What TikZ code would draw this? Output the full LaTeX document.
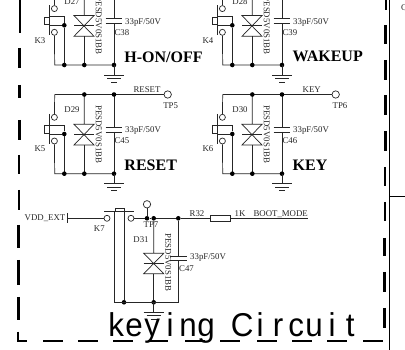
\documentclass[tikz,border=0pt]{standalone}
\usepackage{fontspec}
\setmainfont{Liberation Serif}
\newfontfamily\titlefont[FakeStretch=0.95]{Liberation Sans}
\usetikzlibrary{calc}
\newcommand{\mc}[1]{\makebox[18pt][c]{#1}}
\tikzset{
  x=1pt,y=-1pt,
  wire/.style={line width=0.7pt,draw=black!85},
  heavy/.style={line width=2.6pt,black,line cap=butt},
  lab/.style={inner sep=0pt,font=\fontsize{8.8}{9}\selectfont,text=black!85},
  big/.style={inner sep=0pt,font=\fontsize{16}{17}\bfseries\selectfont},
  dot/.style={circle,fill=black,inner sep=0pt,minimum size=4.6pt},
  hole/.style={circle,draw=black!85,line width=0.7pt,fill=white,inner sep=0pt,minimum size=6pt},
  tpc/.style={circle,draw=black!85,line width=0.7pt,fill=white,inner sep=0pt,minimum size=7.4pt}
}
\newcommand{\gndsym}[3]{% name, x, y of top stub
  \coordinate (#1) at (#2,#3);
  \draw[wire] (#1) -- ++(0,10);
  \draw[wire] ($(#1)+(-10,10)$) -- ++(20,0);
  \draw[wire] ($(#1)+(-7,13.5)$) -- ++(14,0);
  \draw[wire] ($(#1)+(-3,17)$) -- ++(6,0);
}
\newcommand{\keyblock}[8]{% dx, dy, D, K, C, title x, title, extra
  \begin{scope}[shift={(#1,#2)}]
    \coordinate (tl) at (54.7,94.5);
    \coordinate (tj) at (84.3,94.5);
    \coordinate (tc) at (114,94.5);
    \coordinate (bl) at (54.7,173.7);
    \coordinate (bk) at (64.3,173.7);
    \coordinate (bj) at (84.3,173.7);
    \coordinate (bc) at (114,173.7);
    \node[hole] (ka) at (54.4,117.3) {};
    \node[hole] (kb) at (54.4,141) {};
    \draw[wire] (tl) -- (ka);
    \draw[wire] (kb) -- (bl) -- (bc);
    \draw[wire] (49,114) -- (49,144);
    \draw[wire] (49,125.7) rectangle (44.3,133.3);
    \node[dot] (kj) at (64.3,134) {};
    \draw[wire] (49,125) -- (64.3,125) -- (kj) -- (bk);
    \draw[wire] (49,134) -- (kj);
    \draw[wire] (tj) -- (84.3,124.3) -- (74,124.3) -- (94,145) -- (74,145) -- (94,124.3) -- (84.3,124.3);
    \draw[wire] (74,134.5) -- (94,134.5);
    \draw[wire] (84.3,145) -- (bj);
    \draw[wire] (tc) -- (114,127.3);
    \draw[wire] (105.7,127.3) -- (122.3,127.3);
    \draw[wire] (105.7,132) -- (122.3,132);
    \draw[wire] (114,132) -- (bc);
    \node[dot] at (bk) {};
    \node[dot] at (bj) {};
    \node[dot] at (bc) {};
    \node[lab] (dn) at (72,110) {#3};
    \node[lab] (kn) at (40,149) {#4};
    \node[lab,anchor=west] (cv) at (125,131) {33pF/50V};
    \node[lab,anchor=west] (cn) at (114.3,141) {#5};
    \node[lab,rotate=-90] (pn) at (98.7,134.3) {PESD5V0S1BB};
    \node[big] (tt) at (#6,165.5) {#7};
    \gndsym{g}{114}{173.7}
    #8
  \end{scope}
}
\begin{document}
\begin{tikzpicture}
\useasboundingbox (0,0) rectangle (405,350);
\fill[white] (0,0) rectangle (405,350);
% upper blocks
\keyblock{0}{-108.7}{D27}{K3}{C38}{163.5}{H-ON/OFF}{\draw[wire] (tl) -- (tc);\node[dot] at (tj) {};\node[dot] at (tc) {};}
\keyblock{168}{-108.7}{D28}{K4}{C39}{159.7}{WAKEUP}{\draw[wire] (tl) -- (tc);\node[dot] at (tj) {};\node[dot] at (tc) {};}
\keyblock{0}{0}{D29}{K5}{C45}{150.7}{RESET}{%
  \node[tpc] (tp5) at (167.7,94.5) {};
  \draw[wire] (tl) -- (tp5);
  \node[dot] at (tj) {};\node[dot] at (tc) {};
  \node[lab] (rs) at (147,90) {RESET};
  \node[lab] (tp5n) at (170.7,105.7) {TP5};}
\keyblock{168}{0}{D30}{K6}{C46}{142}{KEY}{%
  \node[tpc] (tp6) at (167.7,94.5) {};
  \draw[wire] (tl) -- (tp6);
  \node[dot] at (tj) {};\node[dot] at (tc) {};
  \node[lab] (ks) at (143.7,90) {KEY};
  \node[lab] (tp6n) at (172,105.7) {TP6};}
% K7 block
\node[hole] (k7a) at (107,218.3) {};
\node[hole] (k7b) at (131,218.3) {};
\node[inner sep=0pt] (vt) at (67.3,218.3) {};
\draw[wire] (67.3,213) -- (67.3,223.5);
\draw[wire] (vt) -- (k7a);
\node[dot] (j1) at (147,218.3) {};
\node[dot] (j2) at (153.7,218.3) {};
\node[dot] (j3) at (178.3,218.3) {};
\node[dot] (j4) at (124,302.3) {};
\node[dot] (j5) at (153.7,302.3) {};
\coordinate (c1) at (114,302.3);
\coordinate (c2) at (178.3,302.3);
\node[draw=black!85,line width=0.7pt,minimum width=20.7pt,minimum height=5.3pt,inner sep=0pt] (r32) at (220.3,218.3) {};
\coordinate (bm) at (307.7,218.3);
\draw[wire] (k7b) -- (j1) -- (j2) -- (j3) -- (r32) -- (bm);
\draw[wire] (104,211.7) -- (134.3,211.7);
\draw[wire] (115,211.7) rectangle (124,208.3);
\draw[wire] (114,211.7) -- (c1) -- (c2) -- (178.3,260.7);
\draw[wire] (j3) -- (178.3,256);
\draw[wire] (124,211.7) -- (j4);
\node[tpc] (tp7) at (147,204.3) {};
\draw[wire] (tp7) -- (j1);
\draw[wire] (j2) -- (153.7,253.3) -- (143.7,253.3) -- (163.7,273.7) -- (143.7,273.7) -- (163.7,253.3) -- (153.7,253.3);
\draw[wire] (143.7,263.5) -- (163.7,263.5);
\draw[wire] (153.7,273.7) -- (j5);
\draw[wire] (170,256) -- (186.7,256);
\draw[wire] (170,260.7) -- (186.7,260.7);
\gndsym{g7}{153.7}{302.3}
\node[lab] (vdd) at (45,218.3) {VDD\_EXT};
\node[lab] (k7n) at (99.3,229) {K7};
\node[lab] (tp7n) at (151,225) {TP7};
\node[lab] (d31) at (141,239.3) {D31};
\node[lab,rotate=-90] (p7) at (168.3,262.5) {PESD5V0S1BB};
\node[lab,anchor=west] (c47v) at (190,257.3) {33pF/50V};
\node[lab,anchor=west] (c47) at (179,268.3) {C47};
\node[lab] (r32n) at (197,213.3) {R32};
\node[lab] (r1k) at (240,213.3) {1K};
\node[lab] (bmn) at (280.7,214) {BOOT\_MODE};
% dashed frame
\foreach \a/\b/\xx in {-5/33/19.9,48/68/19.6,85/98/19.4,120/140/19.2,155/174/19,190/210/18.8,225/248/18.6,260/285/18.4,297/320/18.2}
  \draw[heavy] (\xx,\a) -- (\xx,\b);
\foreach \a/\b/\xx in {-5/10/385.8,25/44/385.7,60/80/385.6,95/115/385.4,131/151/385.2,167/186/385,202/221/384.9,238/256/384.7,272/292/384.5,308/328/384.3}
  \draw[heavy] (\xx,\a) -- (\xx,\b);
\draw[heavy] (18,331.7) -- (18,341) -- (26.7,341);
\foreach \a/\b in {43/63,78/98,113/133,148/168,185/205,220/240,257/277,292/312,327/347,363/383}
  \draw[heavy] (\a,341) -- (\b,341);
% right side
\coordinate (rt) at (389.7,0);
\coordinate (rb) at (389.7,350);
\coordinate (rm) at (389.7,196.5);
\coordinate (re) at (405,196.5);
\draw[line width=0.8pt] (rt) -- (rb);
\draw[line width=0.8pt] (rm) -- (re);
\node[lab,anchor=west] (cc) at (401,8) {C};
% title
\node[inner sep=0pt,anchor=base west,font=\titlefont\fontsize{33}{34}\selectfont] (title) at (107,336.2) {\mc{k}\mc{e}\mc{y}\mc{i}\mc{n}\mc{g}\mc{ }\mc{C}\mc{i}\mc{r}\mc{c}\mc{u}\mc{i}\mc{t}};
\end{tikzpicture}
\end{document}
